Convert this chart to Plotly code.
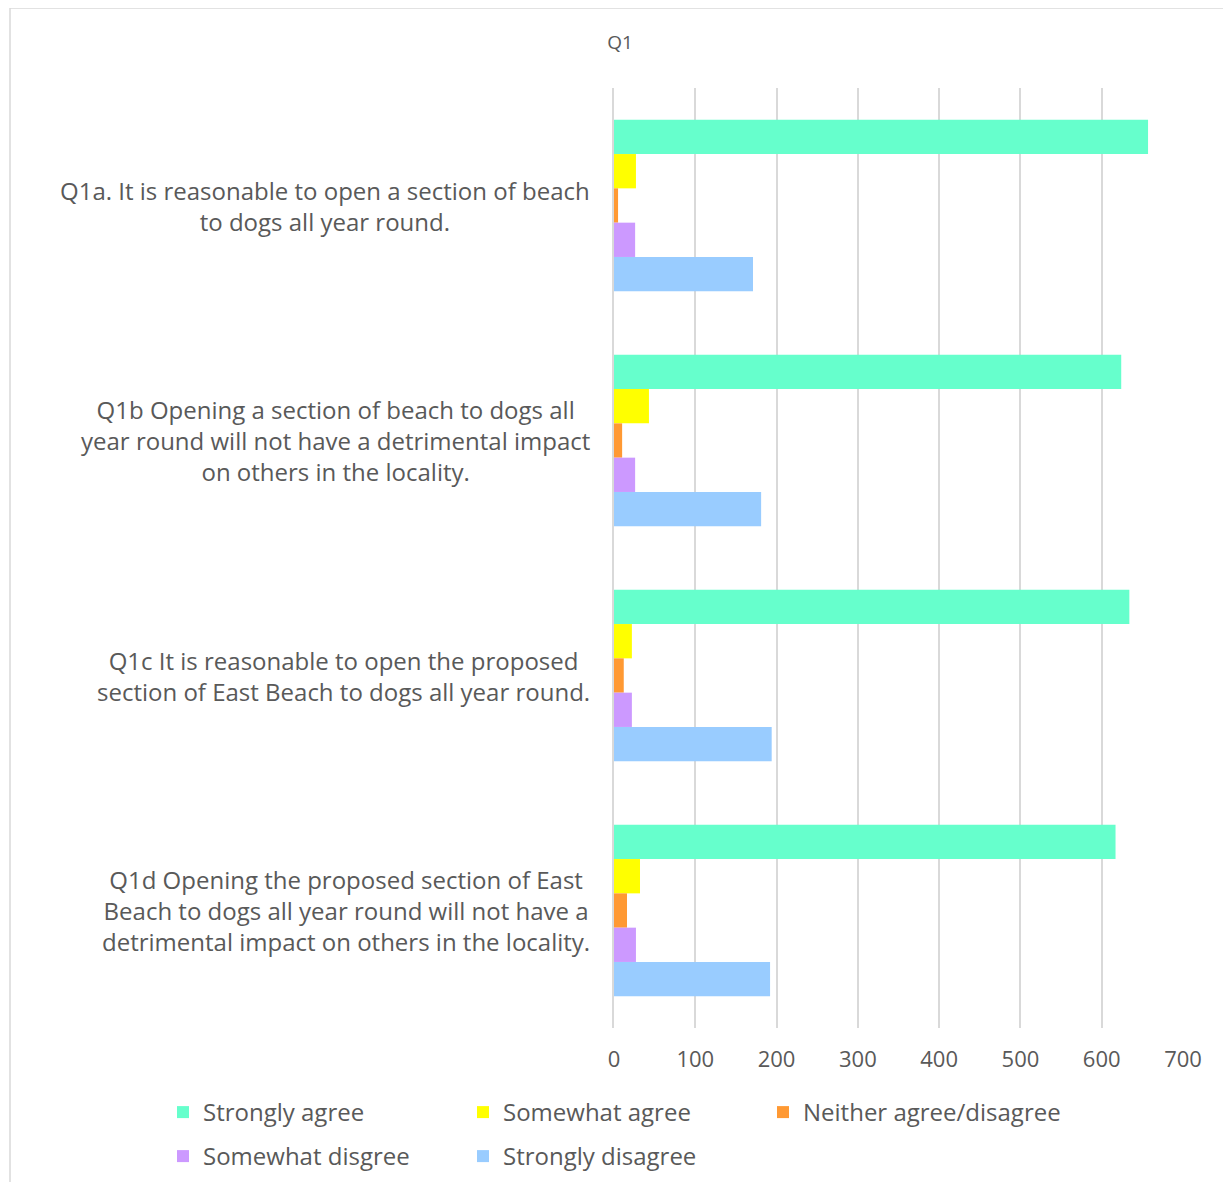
import plotly.graph_objects as go

# survey statements (top to bottom)
questions = [
    "Q1a. It is reasonable to open a section of beach<br>to dogs all year round.",
    "Q1b Opening a section of beach to dogs all<br>year round will not have a detrimental impact<br>on others in the locality.",
    "Q1c It is reasonable to open the proposed<br>section of East Beach to dogs all year round.",
    "Q1d Opening the proposed section of East<br>Beach to dogs all year round will not have a<br>detrimental impact on others in the locality.",
]
question_ids = ["Q1a", "Q1b", "Q1c", "Q1d"]

strongly_agree = [657, 624, 634, 617]
somewhat_agree = [27, 43, 22, 32]
neither = [5, 10, 12, 16]
somewhat_disagree = [26, 26, 22, 27]
strongly_disagree = [171, 181, 194, 192]

x_ticks = [0, 100, 200, 300, 400, 500, 600, 700]

series = [
    ("Strongly agree", strongly_agree, "#66FFCC", "legend"),
    ("Somewhat agree", somewhat_agree, "#FFFF00", "legend"),
    ("Neither agree/disagree", neither, "#FF9933", "legend"),
    ("Somewhat disgree", somewhat_disagree, "#CC99FF", "legend2"),
    ("Strongly disagree", strongly_disagree, "#99CCFF", "legend2"),
]

FONT = "Open Sans"
GREY = "#595959"
W, H = 1231, 1182
# page body adds an 8px offset, so everything is shifted up/left by 8
L, R, T, B = 606, 56, 80, 161

fig = go.Figure()
for name, vals, col, leg in series:
    fig.add_trace(go.Bar(y=question_ids, x=vals, name=name, orientation="h",
                         legend=leg, marker=dict(color=col, line=dict(width=0))))

# centred multi-line category labels
for qid, text in zip(question_ids, questions):
    fig.add_annotation(x=0, xref="paper", y=qid, yref="y", text=text,
                       xanchor="right", yanchor="middle", xshift=-22, align="center",
                       showarrow=False, font=dict(family=FONT, size=24, color=GREY))

pw, ph = W - L - R, H - T - B
# outer chart border
fig.add_shape(type="rect", xref="paper", yref="paper",
              x0=(2 - L) / pw, x1=(1220 - L) / pw,
              y0=(H - B - 1178) / ph, y1=(H - B - 0) / ph,
              line=dict(color="#d9d9d9", width=1.5), fillcolor="rgba(0,0,0,0)", layer="below")

leg_common = dict(orientation="h", x=(155 - L) / pw, xanchor="left", yanchor="top",
                  entrywidth=255, entrywidthmode="pixels",
                  font=dict(family=FONT, size=24, color=GREY))

fig.update_layout(
    width=W, height=H,
    margin=dict(l=L, r=R, t=T, b=B),
    paper_bgcolor="white", plot_bgcolor="white",
    barmode="group", bargap=0.27, bargroupgap=0,
    title=dict(text="Q1", x=(620 - 8) / W, xref="container", xanchor="center",
               y=1 - 34 / H, yanchor="middle",
               font=dict(family=FONT, size=19, color=GREY)),
    font=dict(family=FONT, color=GREY),
    xaxis=dict(range=[0, 700], tickvals=x_ticks, showgrid=True, gridcolor="#d9d9d9",
               gridwidth=1.5, zeroline=False, showline=False,
               tickfont=dict(family=FONT, size=22, color=GREY), ticklabelstandoff=16),
    yaxis=dict(autorange="reversed", showticklabels=False, showgrid=False,
               showline=True, linecolor="#d9d9d9", linewidth=1.5, zeroline=False),
    legend=dict(leg_common, y=(H - B - 1082) / ph),
    legend2=dict(leg_common, y=(H - B - 1126) / ph),
)

fig.write_html("out.html")
